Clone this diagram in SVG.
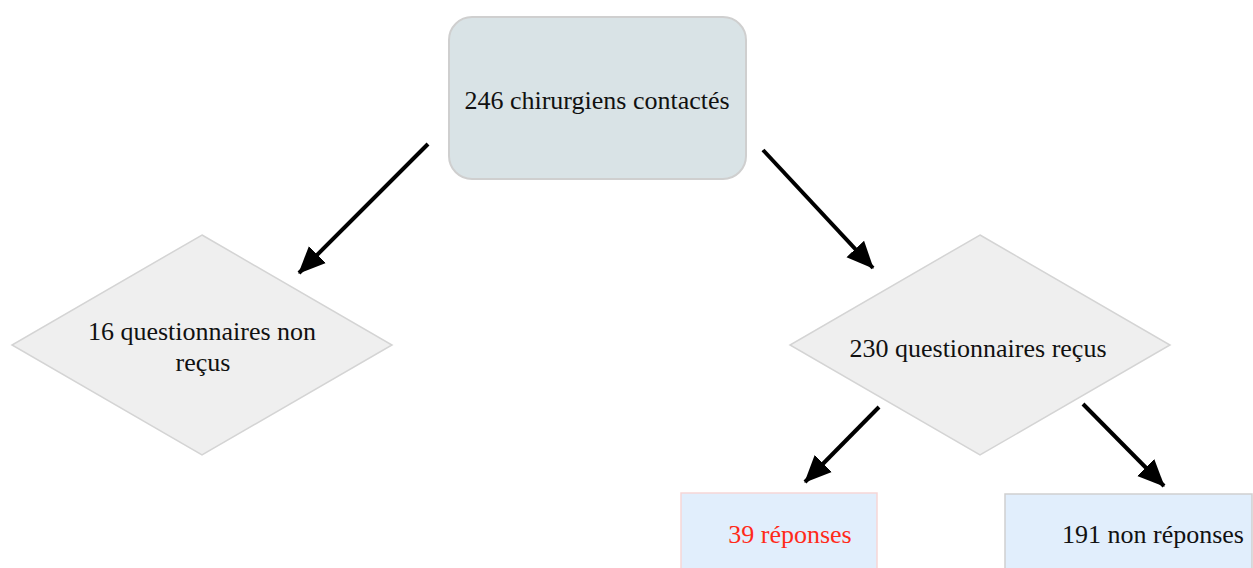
<svg xmlns="http://www.w3.org/2000/svg" width="1253" height="568" viewBox="0 0 1253 568">
<style>
text{font-family:"Liberation Serif","Times New Roman",serif;font-size:26px;fill:#111;text-anchor:middle}
.dia{fill:#efefef;stroke:#d4d4d4;stroke-width:1.5}
.conn{stroke:#000;stroke-width:4;fill:none;marker-end:url(#ah)}
</style>
<defs>
<marker id="ah" markerUnits="userSpaceOnUse" markerWidth="28" markerHeight="28" viewBox="0 0 28 28" refX="26" refY="14" orient="auto">
<path d="M0,2 L27,14 L0,26 Z" fill="#000"/>
</marker>
</defs>
<rect width="1253" height="568" fill="#fff"/>
<g id="n-top">
<rect x="449" y="17" width="297" height="162" rx="23" ry="23" fill="#d9e3e6" stroke="#cfcfcf" stroke-width="2"/>
<text x="597" y="109">246 chirurgiens contactés</text>
</g>
<g id="n-left">
<polygon class="dia" points="202,235 392,345 202,455 12,345"/>
<text x="202" y="340">16 questionnaires non</text>
<text x="203" y="371">reçus</text>
</g>
<g id="n-right">
<polygon class="dia" points="980,235 1170,345 980,455 790,345"/>
<text x="978" y="357">230 questionnaires reçus</text>
</g>
<g id="n-rep">
<rect x="681" y="493" width="196" height="85" fill="#e1eefc" stroke="#f6d6d6" stroke-width="1.5"/>
<text x="790" y="543" style="fill:#ff2a1a">39 réponses</text>
</g>
<g id="n-nonrep">
<rect x="1005" y="494" width="247" height="85" fill="#e1eefc" stroke="#cfcfcf" stroke-width="1.5"/>
<text x="1153" y="543">191 non réponses</text>
</g>
<g id="connectors">
<line class="conn" x1="428" y1="144" x2="299" y2="273"/>
<line class="conn" x1="763" y1="150" x2="873" y2="268"/>
<line class="conn" x1="879" y1="407" x2="805" y2="482"/>
<line class="conn" x1="1083" y1="404" x2="1164" y2="486"/>
</g>
</svg>
